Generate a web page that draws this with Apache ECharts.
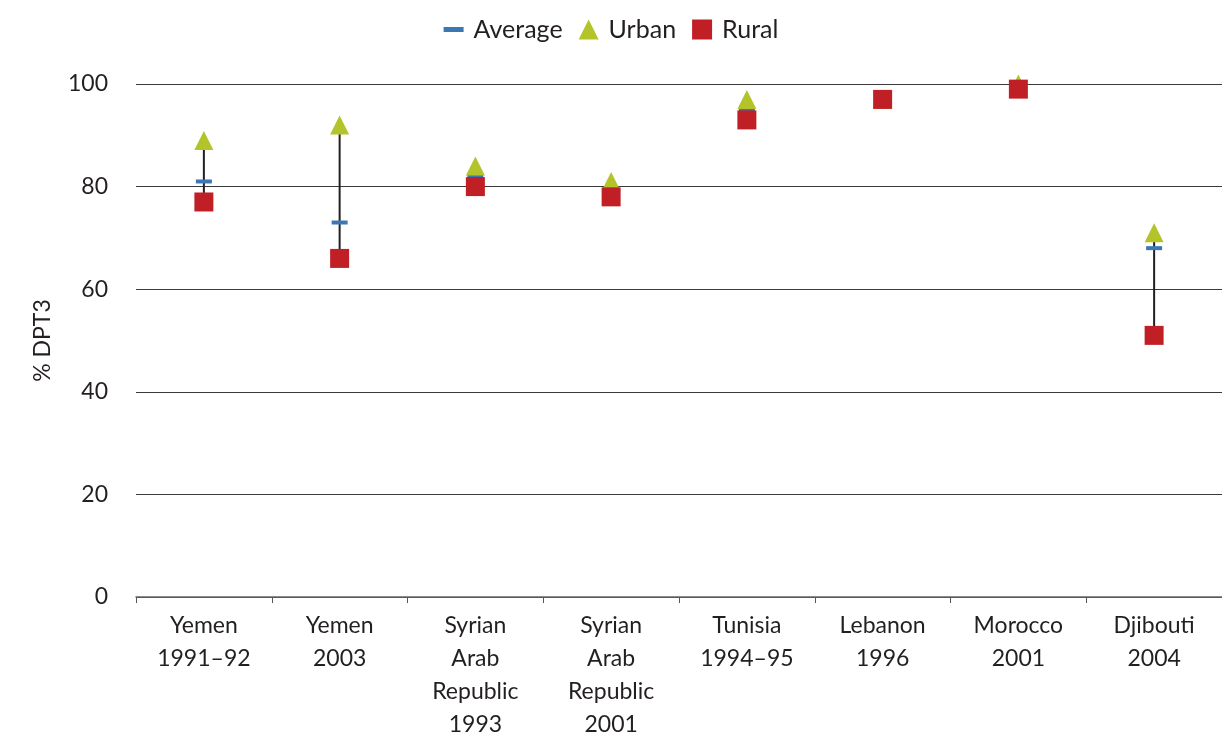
<!DOCTYPE html>
<html>
<head>
<meta charset="utf-8">
<script src="https://cdn.jsdelivr.net/npm/echarts@6/dist/echarts.min.js"></script>
<style>
html,body{margin:0;padding:0;background:#fff;}
#chart{width:1222px;height:732px;}
</style>
</head>
<body>
<div id="chart"></div>
<script>
const categories = ["Yemen\n1991–92", "Yemen\n2003", "Syrian\nArab\nRepublic\n1993", "Syrian\nArab\nRepublic\n2001", "Tunisia\n1994–95", "Lebanon\n1996", "Morocco\n2001", "Djibouti\n2004"];
const average = [81, 73, 82, 79, 95, 97, 99, 68];
const urban = [89, 92, 84, 81, 97, 97, 100, 71];
const rural = [77, 66, 80, 78, 93, 97, 99, 51];
const yTicks = [0, 20, 40, 60, 80, 100];

const FONT = "Lato, 'Open Sans', sans-serif";
const TXT = "#231f20";

const rangeData = categories.map((c, i) => [i, rural[i], urban[i]]);

const chart = echarts.init(document.getElementById('chart'), null, {renderer: 'canvas'});
chart.setOption({
  animation: false,
  backgroundColor: '#fff',
  textStyle: {fontFamily: FONT, color: TXT},
  legend: {
    top: 12,
    left: 'center',
    itemGap: 16,
    itemWidth: 20,
    itemHeight: 20,
    textStyle: {fontFamily: FONT, fontSize: 25, color: TXT, padding: [0, 0, 0, 5]},
    data: [
      {name: 'Average', icon: 'path://M0,0h16v4h-16z'},
      {name: 'Urban', icon: 'triangle'},
      {name: 'Rural', icon: 'rect'}
    ]
  },
  grid: {left: 136, right: 0, top: 84, bottom: 135, outerBoundsMode: 'none', containLabel: false},
  xAxis: {
    type: 'category',
    data: categories,
    boundaryGap: true,
    axisLine: {lineStyle: {color: '#666', width: 1.5}},
    axisTick: {show: true, length: 6, inside: false, lineStyle: {color: '#555'}, alignWithLabel: false},
    axisLabel: {fontFamily: FONT, fontSize: 23, color: TXT, lineHeight: 33, margin: 12, interval: 0}
  },
  yAxis: {
    type: 'value',
    min: 0, max: 100, interval: 20,
    name: '% DPT3',
    nameLocation: 'middle',
    nameGap: 82,
    nameRotate: 90,
    nameTextStyle: {fontFamily: FONT, fontSize: 23, color: TXT},
    axisLine: {show: false},
    axisTick: {show: false},
    splitLine: {lineStyle: {color: '#3a3a3a', width: 1.2}},
    axisLabel: {fontFamily: FONT, fontSize: 23, color: TXT, margin: 28,
      formatter: v => yTicks.includes(v) ? String(v) : ''}
  },
  series: [
    {
      name: 'Range',
      type: 'custom',
      data: rangeData,
      encode: {x: 0, y: [1, 2]},
      renderItem: function (params, api) {
        const a = api.coord([api.value(0), api.value(1)]);
        const b = api.coord([api.value(0), api.value(2)]);
        return {
          type: 'line',
          shape: {x1: a[0], y1: a[1], x2: b[0], y2: b[1]},
          style: {stroke: '#231f20', lineWidth: 2}
        };
      },
      z: 1,
      silent: true
    },
    {
      name: 'Average', type: 'scatter', data: average,
      symbol: 'rect', symbolSize: [16, 4],
      itemStyle: {color: '#3b77b3', opacity: 1}, z: 2
    },
    {
      name: 'Urban', type: 'scatter', data: urban,
      symbol: 'triangle', symbolSize: [19, 19],
      itemStyle: {color: '#b3c42b', opacity: 1}, z: 3
    },
    {
      name: 'Rural', type: 'scatter', data: rural,
      symbol: 'rect', symbolSize: [19, 19],
      itemStyle: {color: '#c01f26', opacity: 1}, z: 4
    }
  ]
});
</script>
</body>
</html>
